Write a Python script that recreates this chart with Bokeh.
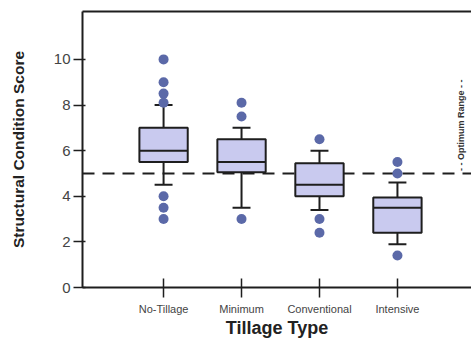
from bokeh.plotting import figure
from bokeh.models import Span, Label, LinearAxis, FixedTicker, Range1d
from bokeh.embed import file_html
from bokeh.resources import INLINE

categories = ["No-Tillage", "Minimum", "Conventional", "Intensive"]
positions = [1, 2, 3, 4]
q1 = [5.5, 5.05, 4.0, 2.4]
median = [6.0, 5.5, 4.5, 3.5]
q3 = [7.0, 6.5, 5.45, 3.95]
whisker_low = [4.5, 3.5, 3.4, 1.9]
whisker_high = [8.0, 7.0, 6.0, 4.6]
outliers = [
    [10.0, 9.0, 8.5, 8.1, 4.0, 3.5, 3.0],
    [8.1, 7.5, 3.0],
    [6.5, 3.0, 2.4],
    [5.5, 5.0, 1.4],
]
optimum_low = 5.0
optimum_high = 10.0
y_ticks = [0, 2, 4, 6, 8, 10]

BOX_W = 0.62
CAP_W = 0.23
DARK = "#1e1e1e"

p = figure(width=471, height=340, output_backend="svg", toolbar_location=None,
           x_range=Range1d(-0.04, 4.95), y_range=Range1d(0, 12.1),
           min_border_left=82, min_border_right=0, min_border_top=11,
           min_border_bottom=53)
p.outline_line_color = None
p.grid.visible = False
p.background_fill_color = "white"

# top frame line as a bare axis (no ticks, no labels)
top = LinearAxis(ticker=FixedTicker(ticks=[]), axis_line_width=2, axis_line_color=DARK,
                 major_tick_line_color=None, minor_tick_line_color=None,
                 major_tick_out=0, major_tick_in=0, major_label_standoff=0,
                 axis_label_standoff=0)
p.add_layout(top, "above")

# dashed reference line
p.add_layout(Span(location=optimum_low, dimension="width", line_color=DARK,
                  line_width=2, line_dash="12 8", level="underlay"))

# whisker stems
p.segment(x0=positions, y0=q3, x1=positions, y1=whisker_high, line_color=DARK, line_width=2)
p.segment(x0=positions, y0=q1, x1=positions, y1=whisker_low, line_color=DARK, line_width=2)
# caps
p.segment(x0=[x - CAP_W / 2 for x in positions], y0=whisker_high,
          x1=[x + CAP_W / 2 for x in positions], y1=whisker_high, line_color=DARK, line_width=2)
p.segment(x0=[x - CAP_W / 2 for x in positions], y0=whisker_low,
          x1=[x + CAP_W / 2 for x in positions], y1=whisker_low, line_color=DARK, line_width=2)
# boxes
p.vbar(x=positions, bottom=q1, top=q3, width=BOX_W, fill_color="#c9caef",
       line_color=DARK, line_width=2)
# medians
p.segment(x0=[x - BOX_W / 2 for x in positions], y0=median,
          x1=[x + BOX_W / 2 for x in positions], y1=median, line_color=DARK, line_width=2)
# outliers
ox, oy = [], []
for x, vals in zip(positions, outliers):
    for v in vals:
        ox.append(x)
        oy.append(v)
p.scatter(ox, oy, size=10, fill_color="#5b69a8", line_color=None)

# optimum range label
p.add_layout(Label(x=4.81, y=(optimum_low + optimum_high) / 2 + 0.05,
                   text="- -     Optimum Range     - -", angle=90, angle_units="deg",
                   text_align="center", text_baseline="middle",
                   text_font="Liberation Sans", text_font_size="9px",
                   text_font_style="bold", text_color="#333333"))

# axes styling
xa = [a for a in p.xaxis if a is not top][0]
xa.ticker = FixedTicker(ticks=positions)
xa.major_label_overrides = {x: c for x, c in zip(positions, categories)}
xa.axis_label = "Tillage Type"
xa.axis_label_text_font = "Liberation Sans"
xa.axis_label_text_font_size = "18px"
xa.axis_label_text_font_style = "bold"
xa.axis_label_text_color = "#222222"
xa.axis_label_standoff = 0
xa.major_label_text_font = "Liberation Sans"
xa.major_label_text_font_size = "11px"
xa.major_label_text_color = "#444444"
xa.major_label_standoff = 5
xa.axis_line_width = 2
xa.axis_line_color = DARK
xa.major_tick_line_width = 1.5
xa.major_tick_line_color = DARK
xa.major_tick_in = 9
xa.major_tick_out = 10
xa.minor_tick_line_color = None

ya = p.yaxis[0]
ya.ticker = FixedTicker(ticks=y_ticks)
ya.axis_label = "Structural Condition Score"
ya.axis_label_text_font = "Liberation Sans"
ya.axis_label_text_font_size = "15.5px"
ya.axis_label_text_font_style = "bold"
ya.axis_label_text_color = "#222222"
ya.axis_label_standoff = 24
ya.major_label_text_font = "Liberation Sans"
ya.major_label_text_font_size = "15px"
ya.major_label_text_color = "#444444"
ya.major_label_standoff = 3
ya.axis_line_width = 2
ya.axis_line_color = DARK
ya.major_tick_line_width = 1.5
ya.major_tick_line_color = DARK
ya.major_tick_in = 3
ya.major_tick_out = 9
ya.minor_tick_line_color = None

open("out.html", "w").write(file_html(p, INLINE))
